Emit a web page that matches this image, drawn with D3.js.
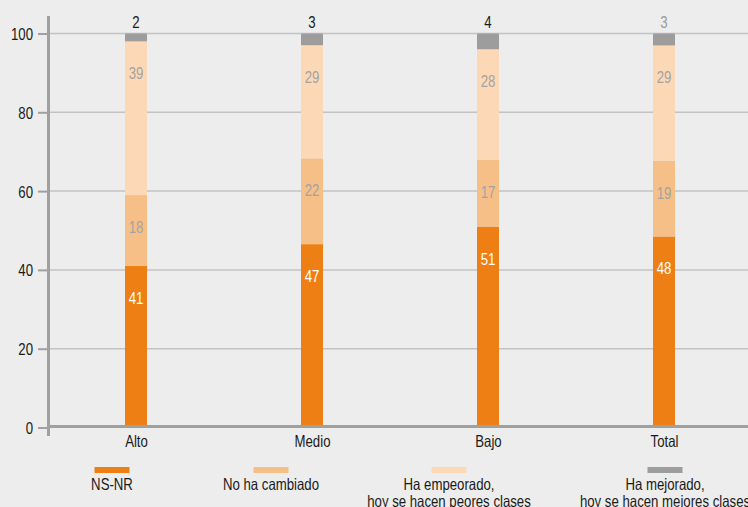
<!DOCTYPE html>
<html>
<head>
<meta charset="utf-8">
<script src="https://cdn.jsdelivr.net/npm/d3@7"></script>
<style>
  html, body { margin: 0; padding: 0; background: #ECEDEC; }
  svg { display: block; }
  text { font-family: "Liberation Sans", Arial, Helvetica, sans-serif; }
</style>
</head>
<body>
<svg id="chart" width="748" height="507"></svg>
<script>
// ---- data ----
const categories = ["Alto", "Medio", "Bajo", "Total"];
const seriesNames = ["NS-NR", "No ha cambiado", "Ha empeorado,\nhoy se hacen peores clases", "Ha mejorado,\nhoy se hacen mejores clases"];
const nsnr        = [41, 47, 51, 48];
const noCambiado  = [18, 22, 17, 19];
const empeorado   = [39, 29, 28, 29];
const mejorado    = [2, 3, 4, 3];
const yTicks      = [0, 20, 40, 60, 80, 100];

// ---- styles ----
const colors = ["#EE7F14", "#F7BF88", "#FCD8B7", "#9D9D9D"];
const labelColors = ["#FFFFFF", "#A3A3A3", "#A3A3A3", null];
const topLabelColors = ["#1a1a1a", "#1a1a1a", "#1a1a1a", "#9a9a9a"];
const legendX = [112, 271, 449, 665];
const SX = 0.8;       // horizontal condensing of the font
const FS = 16.5;

const svg = d3.select("#chart");
const W = 748, H = 507;
svg.append("rect").attr("width", W).attr("height", H).attr("fill", "#ECEDEC");

// helper: condensed text placed at (px, py)
function ctext(parent, px, py, str, anchor, fill) {
  return parent.append("text")
    .attr("transform", `translate(${px},${py}) scale(${SX},1)`)
    .attr("text-anchor", anchor).attr("font-size", FS).attr("fill", fill)
    .text(str);
}

const keys = ["s0", "s1", "s2", "s3"];
const rows = categories.map((c, i) => ({ cat: c, s0: nsnr[i], s1: noCambiado[i], s2: empeorado[i], s3: mejorado[i] }));
const stack = d3.stack().keys(keys).offset(d3.stackOffsetExpand)(rows);

const x = d3.scalePoint().domain(categories).range([48, 752]).padding(0.5);
const y = d3.scaleLinear().domain([0, 1]).range([427.5, 33.5]);
const yPct = d3.scaleLinear().domain([0, 100]).range([427.5, 33.5]);
const barW = 22;

// gridlines
svg.append("g").selectAll("line").data(yTicks.filter(t => t > 0)).join("line")
  .attr("x1", 49).attr("x2", W)
  .attr("y1", d => yPct(d)).attr("y2", d => yPct(d))
  .attr("stroke", "#C3C3C3").attr("stroke-width", 1.5);

// bars
const gBars = svg.append("g");
stack.forEach((s, si) => {
  gBars.append("g").selectAll("rect").data(s).join("rect")
    .attr("x", d => x(d.data.cat) - barW / 2)
    .attr("width", barW)
    .attr("y", d => y(d[1]))
    .attr("height", d => y(d[0]) - y(d[1]))
    .attr("fill", colors[si]);
});

// value labels
const rawVals = [nsnr, noCambiado, empeorado, mejorado];
const gLab = svg.append("g");
stack.forEach((s, si) => {
  s.forEach((d, i) => {
    if (si < 3) {
      ctext(gLab, x(d.data.cat), y(d[1]) + 32 + 6, rawVals[si][i], "middle", labelColors[si]);
    } else {
      ctext(gLab, x(d.data.cat), y(d[1]) - 6, rawVals[si][i], "middle", topLabelColors[i]);
    }
  });
});

// y axis
const yAxis = d3.axisLeft(yPct).tickValues(yTicks).tickSize(11).tickFormat(() => "");
const gy = svg.append("g").attr("transform", "translate(49,0)").call(yAxis);
gy.select(".domain").remove();
gy.selectAll(".tick line").attr("stroke", "#A0A0A0").attr("stroke-width", 2);
gy.selectAll(".tick").each(function(d) {
  ctext(d3.select(this), -16, 6, d, "end", "#1a1a1a");
});
svg.append("line").attr("x1", 48.5).attr("x2", 48.5).attr("y1", 16).attr("y2", 436)
  .attr("stroke", "#A0A0A0").attr("stroke-width", 3);

// x axis
const xAxis = d3.axisBottom(x).tickSize(0).tickFormat(() => "");
const gx = svg.append("g").attr("transform", `translate(0,${yPct(0) - 1})`).call(xAxis);
gx.select(".domain").remove();
gx.selectAll(".tick").each(function(d) {
  ctext(d3.select(this), 0, 20, d, "middle", "#1a1a1a");
});
svg.append("line").attr("x1", 47).attr("x2", W).attr("y1", yPct(0) - 1).attr("y2", yPct(0) - 1)
  .attr("stroke", "#A0A0A0").attr("stroke-width", 3);

// legend
const gl = svg.append("g");
seriesNames.forEach((name, i) => {
  gl.append("rect").attr("x", legendX[i] - 17.5).attr("y", 467).attr("width", 35).attr("height", 6)
    .attr("fill", colors[i]);
  name.split("\n").forEach((ln, li) => {
    ctext(gl, legendX[i], 490 + li * 17, ln, "middle", "#1a1a1a");
  });
});
</script>
</body>
</html>
